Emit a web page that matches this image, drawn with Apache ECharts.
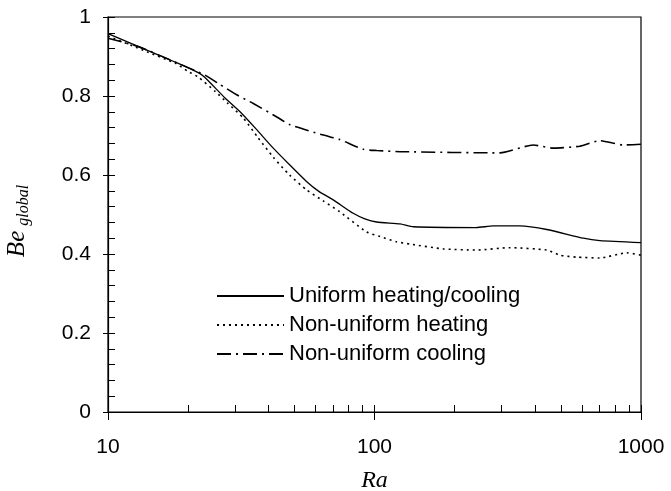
<!DOCTYPE html>
<html>
<head>
<meta charset="utf-8">
<script src="https://cdn.jsdelivr.net/npm/echarts@6/dist/echarts.min.js"></script>
<style>html,body{margin:0;padding:0;background:#fff;}#c{width:671px;height:491px;}</style>
</head>
<body>
<div id="c"></div>
<script>
const seriesNames = ['Uniform heating/cooling', 'Non-uniform heating', 'Non-uniform cooling'];
const xTickValues = [10,20,30,40,50,60,70,80,90,100,200,300,400,500,600,700,800,900,1000];
const xMajorTicks = [10,100,1000];

const raUniform = [10, 14.2, 18, 21.8, 23, 27.5, 31.3, 36, 41.7, 48, 55.7, 62, 70, 83.2, 92, 101.9, 124.6, 140, 241, 279, 351, 443, 608, 701, 1000];
const beUniform = [0.958, 0.914, 0.885, 0.859, 0.848, 0.795, 0.760, 0.716, 0.668, 0.626, 0.583, 0.558, 0.537, 0.503, 0.489, 0.481, 0.476, 0.469, 0.467, 0.471, 0.471, 0.462, 0.440, 0.434, 0.429];

const raHeating = [10, 14, 18, 20, 21.8, 25.3, 28, 32.2, 36.5, 41.7, 48, 55.7, 64, 74, 93.3, 105, 121, 136, 181, 241, 322, 443, 497, 573, 701, 883, 1000];
const beHeating = [0.952, 0.912, 0.882, 0.862, 0.848, 0.811, 0.783, 0.744, 0.695, 0.645, 0.600, 0.562, 0.535, 0.507, 0.456, 0.444, 0.431, 0.425, 0.413, 0.410, 0.416, 0.410, 0.397, 0.392, 0.390, 0.403, 0.397];

const raCooling = [10, 13, 18, 23.1, 25.9, 30.4, 35.1, 43, 48.2, 64.3, 74, 90.8, 102, 128, 296, 394, 469, 590, 701, 859, 1000];
const beCooling = [0.946, 0.925, 0.885, 0.853, 0.832, 0.803, 0.781, 0.747, 0.727, 0.701, 0.690, 0.665, 0.662, 0.659, 0.656, 0.676, 0.668, 0.673, 0.687, 0.676, 0.678];

function pairs(xs, ys) { return xs.map((x, i) => [x, ys[i]]); }

const chart = echarts.init(document.getElementById('c'), null, {renderer: 'canvas'});
const font = 'Liberation Sans';
const lineBase = {type: 'line', showSymbol: false, symbol: 'none', smooth: 0.2, xAxisIndex: 0, yAxisIndex: 0};
chart.setOption({
  animation: false,
  backgroundColor: '#fff',
  grid: {left: 108, right: 30, top: 17, bottom: 79, show: true, borderColor: '#000', borderWidth: 1.2, backgroundColor: 'transparent', containLabel: false, outerBoundsMode: 'none'},
  legend: {
    orient: 'vertical', left: 211, top: 279, itemWidth: 67, itemHeight: 14, itemGap: 5,
    data: seriesNames,
    itemStyle: {color: 'rgba(0,0,0,0)', borderWidth: 0, opacity: 0},
    textStyle: {fontFamily: font, fontSize: 22, color: '#000', lineHeight: 24}
  },
  xAxis: [{
    type: 'log', logBase: 10, min: 10, max: 1000,
    name: 'Ra', nameLocation: 'middle', nameGap: 57,
    nameTextStyle: {fontFamily: 'Liberation Serif', fontStyle: 'italic', fontSize: 24, color: '#000'},
    axisLine: {lineStyle: {color: '#000', width: 1.2}},
    axisTick: {inside: true, length: 7, lineStyle: {color: '#000'}, customValues: xTickValues},
    axisLabel: {fontFamily: font, fontSize: 21, color: '#000', margin: 25, customValues: xMajorTicks, formatter: v => String(v)},
    splitLine: {show: false}
  }, {
    type: 'log', logBase: 10, min: 10, max: 1000, position: 'bottom',
    axisLine: {show: false},
    axisTick: {inside: false, length: 8, lineStyle: {color: '#000'}, customValues: xMajorTicks},
    axisLabel: {show: false},
    splitLine: {show: false}
  }],
  yAxis: [{
    type: 'value', min: 0, max: 1, interval: 0.2,
    name: '{a|Be}{b|global}', nameLocation: 'middle', nameRotate: 90, nameGap: 76,
    nameTextStyle: {
      rich: {
        a: {fontFamily: 'Liberation Serif', fontStyle: 'italic', fontSize: 25, color: '#000', padding: [0, 5, 0, 0]},
        b: {fontFamily: 'Liberation Serif', fontStyle: 'italic', fontSize: 16, color: '#000', padding: [14, 13, 0, 0]}
      }
    },
    axisLine: {show: true, lineStyle: {color: '#000', width: 1.2}},
    axisTick: {show: true, inside: true, length: 7, lineStyle: {color: '#000'}},
    minorTick: {show: true, splitNumber: 5, length: 7, lineStyle: {color: '#000'}},
    axisLabel: {fontFamily: font, fontSize: 21, color: '#000', margin: 17, formatter: v => String(v)},
    splitLine: {show: false}, minorSplitLine: {show: false}
  }, {
    type: 'value', min: 0, max: 1, interval: 0.2, position: 'left',
    axisLine: {show: false},
    axisTick: {show: true, inside: false, length: 5, lineStyle: {color: '#000'}},
    axisLabel: {show: false},
    splitLine: {show: false}
  }],
  series: [
    Object.assign({}, lineBase, {name: seriesNames[0], data: pairs(raUniform, beUniform), lineStyle: {color: '#000', width: 1.3, type: 'solid'}, itemStyle: {color: '#000'}}),
    Object.assign({}, lineBase, {name: seriesNames[1], data: pairs(raHeating, beHeating), lineStyle: {color: '#000', width: 1.6, type: [2, 4]}, itemStyle: {color: '#000'}}),
    Object.assign({}, lineBase, {name: seriesNames[2], data: pairs(raCooling, beCooling), lineStyle: {color: '#000', width: 1.6, type: [14, 5, 2, 5]}, itemStyle: {color: '#000'}})
  ]
});
</script>
</body>
</html>
